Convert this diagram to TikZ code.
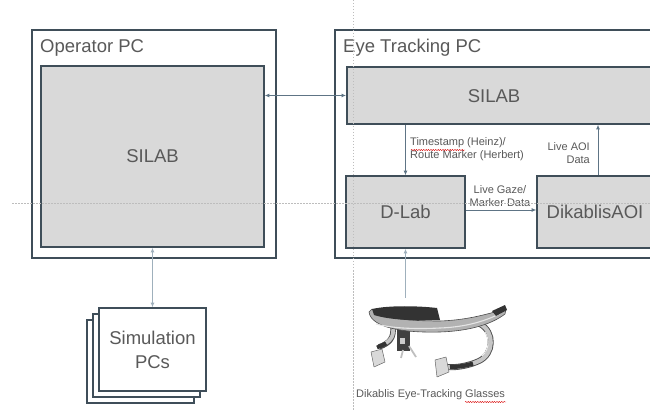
\documentclass[tikz,border=0pt]{standalone}
\usepackage{fontspec}
\setmainfont{Liberation Sans}
\usetikzlibrary{arrows.meta, positioning, decorations.pathmorphing}
\definecolor{frameclr}{HTML}{3F4E59}
\definecolor{boxfill}{HTML}{D9D9D9}
\definecolor{txtclr}{HTML}{595959}
\definecolor{linkclr}{HTML}{5E7485}
\definecolor{lightlink}{HTML}{9FB0BC}
\definecolor{guideclr}{HTML}{BDBDBD}

\begin{document}
\begin{tikzpicture}[
        x=1pt, y=-1pt,
        pcbox/.style={rectangle, draw=frameclr, line width=1.6pt, fill=white},
        procbox/.style={rectangle, draw=frameclr, line width=1.6pt, fill=boxfill, text=txtclr, font=\fontsize{18.5}{22}\selectfont},
        simbox/.style={rectangle, draw=frameclr, line width=1.5pt, fill=white, text=txtclr, align=center,
                       minimum width=107pt, minimum height=83pt, font=\fontsize{18.5}{24}\selectfont},
        bigtext/.style={text=txtclr, inner sep=0pt, font=\fontsize{18.5}{22}\selectfont},
        smalltext/.style={text=txtclr, inner sep=0pt, font=\fontsize{11}{13.5}\selectfont},
        link/.style={draw=linkclr, line width=0.8pt, -{Latex[length=4.5pt,width=4pt]}},
        softlink/.style={draw=lightlink, line width=0.9pt, -{Latex[length=4.5pt,width=4pt]}},
        guide/.style={draw=guideclr, line width=0.6pt, dash pattern=on 1.5pt off 1.5pt},
        squiggle/.style={draw=red!85!black, line width=0.4pt, decorate,
                         decoration={snake, amplitude=0.6pt, segment length=2.4pt}}
    ]
    \useasboundingbox (0,0) rectangle (650,411);
    \clip (0,0) rectangle (650,411);

    % operator side
    \node [pcbox, minimum width=244pt, minimum height=228pt] (oppc) at (154,144) {};
    \node [bigtext, anchor=base west] (oppctitle) at (40,53) {Operator PC};
    \node [procbox, minimum width=223pt, minimum height=181pt] (opsilab) at (152.5,156.5) {SILAB};

    % eye tracking side
    \node [pcbox, minimum width=365pt, minimum height=228pt] (etpc) at (517.5,144) {};
    \node [bigtext, anchor=base west] (etpctitle) at (343,53) {Eye Tracking PC};
    \node [procbox, anchor=west, minimum width=354pt, minimum height=57pt] (etsilab) at (346,95.5) {};
    \node [bigtext] (etsilabtext) at (494,96.5) {SILAB};
    \node [procbox, minimum width=119pt, minimum height=72pt] (dlab) at (405.5,212) {D-Lab};
    \node [procbox, minimum width=116pt, minimum height=72pt] (dikaoi) at (595,212) {DikablisAOI};

    % simulation PCs (stacked)
    \node [simbox] (simback2) at (140.5,361.5) {};
    \node [simbox] (simback1) at (146.5,355.5) {};
    \node [simbox] (simpcs) at (152.5,349.5) {Simulation\\PCs};

    % glasses
    \coordinate (glasses) at (405.5,298);
    \begin{scope}[line join=round]
        % right arm and camera
        \draw [line width=6pt, black!70] (480,324) .. controls (495,332) and (494,354) .. (479,361)
              .. controls (468,366) and (455,368) .. (446,367);
        \draw [line width=4.2pt, gray!45] (480,324) .. controls (495,332) and (494,354) .. (479,361)
              .. controls (468,366) and (455,368) .. (446,367);
        \draw [line width=1pt, white!85!gray] (485,332) .. controls (490,340) and (489,350) .. (482,356);
        \draw [line width=4.2pt, black!80] (473,363.5) .. controls (465,366) and (458,367) .. (450,367);
        \fill [gray!30, draw=black!60, line width=0.5pt] (435,360) -- (446,357) -- (449,372) -- (437,377) -- cycle;
        % left arm and camera
        \draw [line width=5.5pt, black!70] (393,326) .. controls (394,338) and (390,343) .. (379,347);
        \draw [line width=3.8pt, gray!45] (393,326) .. controls (394,336) and (391,340) .. (386,343);
        \draw [line width=3.8pt, black!80] (386,343.5) -- (377,347.5);
        \fill [gray!30, draw=black!60, line width=0.5pt] (371,352) -- (382,349) -- (385,362) -- (374,367) -- cycle;
        % centre clip
        \fill [black!75] (397,329) rectangle (410,351);
        \fill [gray!40] (400,338) rectangle (405,344);
        \draw [line width=1.8pt, gray!50] (403,350) -- (401,358) (409,346) -- (416,357);
        % head band
        \fill [gray!60, draw=black!70, line width=0.6pt]
              (369,312) .. controls (371,328) and (405,333) .. (440,332)
              .. controls (470,331) and (492,324) .. (505,314)
              -- (506,309) .. controls (490,313) and (470,320) .. (440,321)
              .. controls (405,321) and (380,318) .. (372,309) -- cycle;
        \draw [line width=1.1pt, white!80!gray] (376,324) .. controls (395,329) and (420,329) .. (440,328)
              .. controls (468,327) and (488,320) .. (501,313);
        \fill [black!80] (372,309) .. controls (390,305) and (420,306) .. (437,308)
              -- (440,320) .. controls (415,321) and (390,320) .. (374,315) -- cycle;
        \fill [black!80] (492,311) -- (505,305) -- (507,310) -- (496,316) -- cycle;
    \end{scope}
    \node [smalltext, anchor=base west] (glassescap) at (356,397) {Dikablis Eye-Tracking Glasses};

    % connectors
    \draw [link, {Latex[length=4.5pt,width=4pt]}-{Latex[length=4.5pt,width=4pt]}]
          (opsilab.east |- etsilab.west) -- (etsilab.west);
    \draw [link] (etsilab.south -| dlab.north) -- (dlab.north);
    \draw [link] ([yshift=2pt]dlab.east) -- ([yshift=2pt]dikaoi.west);
    \draw [link] ([xshift=3pt]dikaoi.north) -- ([xshift=3pt]dikaoi.north |- etsilab.south);
    \draw [softlink] (glasses) -- (dlab.south);
    \draw [softlink, {Latex[length=4.5pt,width=4pt]}-{Latex[length=4.5pt,width=4pt]}]
          (opsilab.south -| simpcs.north) -- (simpcs.north);

    % connector labels
    \node [smalltext, anchor=north west, align=left] (tslabel) at (410,137) {Timestamp (Heinz)/\\Route Marker (Herbert)};
    \node [smalltext, anchor=north east, align=right] (aoilabel) at (590,142) {Live AOI\\Data};
    \node [smalltext, anchor=north, align=center] (gazelabel) at (500,185) {Live Gaze/\\Marker Data};

    % spell check marks
    \draw [squiggle] (411,150) -- (465,150);
    \draw [squiggle] (465,402) -- (506,402);

    % slide guides
    \draw [guide] (353,0) -- (353,411);
    \draw [guide] (12,203) -- (650,203);
\end{tikzpicture}
\end{document}
